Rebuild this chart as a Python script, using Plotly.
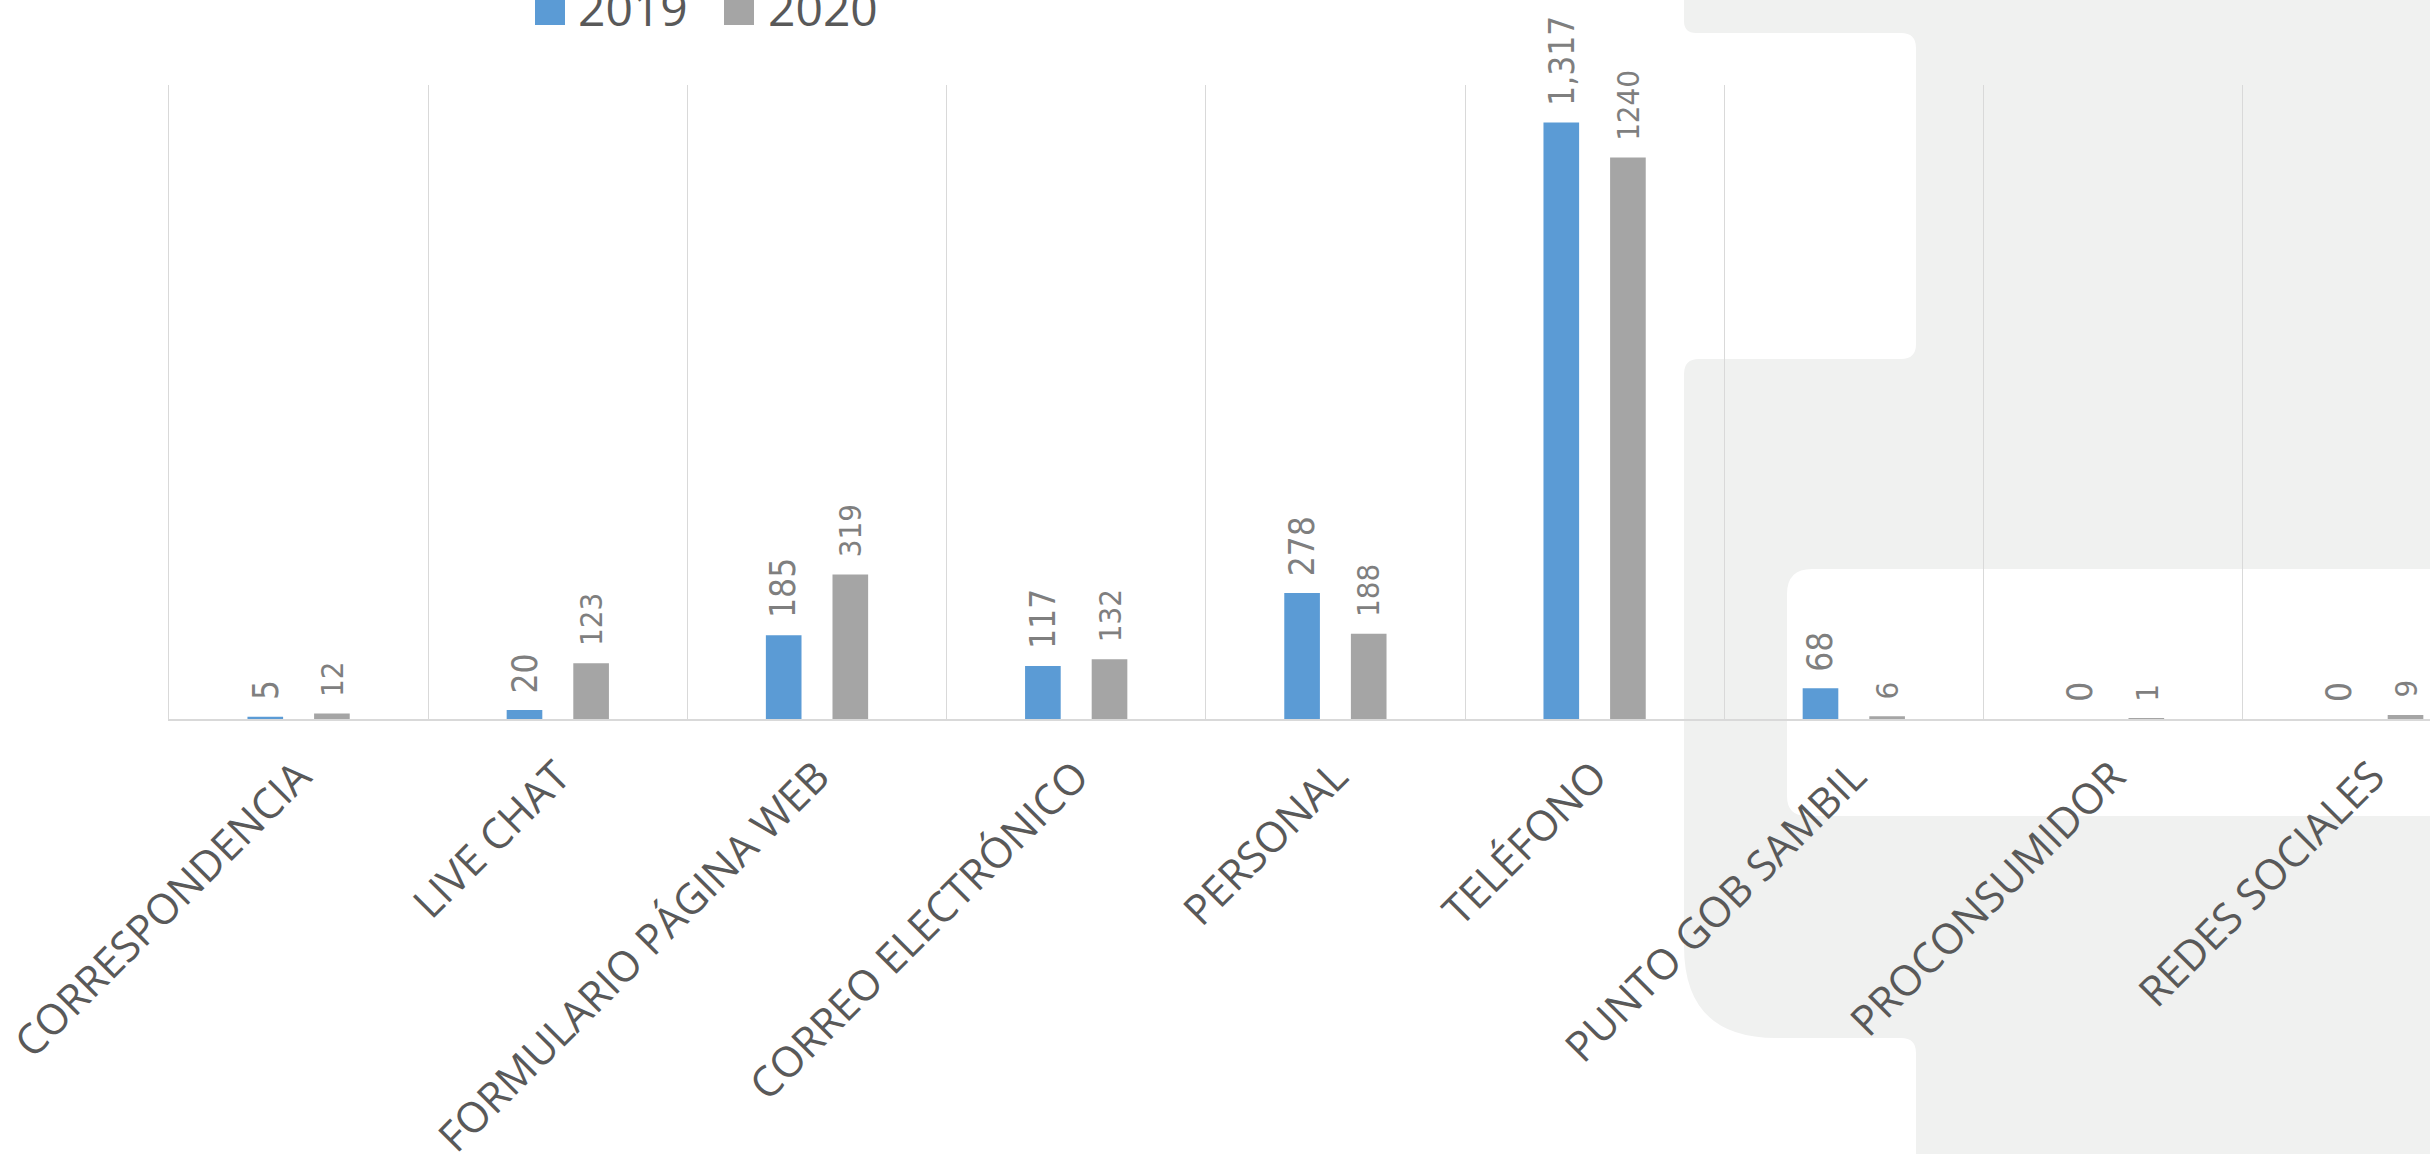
import plotly.graph_objects as go

# Canales de atención: casos recibidos por año
categorias = [
    "CORRESPONDENCIA",
    "LIVE CHAT",
    "FORMULARIO PÁGINA WEB",
    "CORREO ELECTRÓNICO",
    "PERSONAL",
    "TELÉFONO",
    "PUNTO GOB SAMBIL",
    "PROCONSUMIDOR",
    "REDES SOCIALES",
]
series = ["2019", "2020"]
valores_2019 = [5, 20, 185, 117, 278, 1317, 68, 0, 0]
valores_2020 = [12, 123, 319, 132, 188, 1240, 6, 1, 9]

# ---- layout constants -------------------------------------------------
W, H = 2430, 1154
ML, MR, MT, MB = 169, 0, 85, 435
PW, PH = W - ML - MR, H - MT - MB
CAT_W = 259.2                      # pixel width of one category
X_END = -0.5 + PW / CAT_W          # last category is cut by the page edge
Y_MAX = 1400

BARGAP = 0.486
BARGROUPGAP = 0.465
OFFSET = (1 - BARGAP) / 4          # centre offset of each bar in a group

AZUL = "#5b9bd5"
GRIS = "#a5a5a5"
TEXTO = "#595959"
ETIQUETA = "#7f7f7f"
REJILLA = "#d9d9d9"
FONDO_FORMA = "#f0f1f0"
FUENTE_VALOR = "DejaVu Sans Condensed, DejaVu Sans, sans-serif"


def px(x):
    return (x - ML) / PW


def py(y):
    return (MT + PH - y) / PH


fig = go.Figure()
fig.add_trace(go.Bar(name=series[0], x=categorias, y=valores_2019,
                     marker=dict(color=AZUL, line=dict(width=0)),
                     showlegend=False))
fig.add_trace(go.Bar(name=series[1], x=categorias, y=valores_2020,
                     marker=dict(color=GRIS, line=dict(width=0)),
                     showlegend=False))

# value labels, rotated, above each bar
anots = []
for i, v in enumerate(valores_2019):
    anots.append(dict(x=i - OFFSET, y=v, xref="x", yref="y",
                      text=f"{v:,}", textangle=-90, showarrow=False,
                      xanchor="center", yanchor="bottom", yshift=15,
                      font=dict(family=FUENTE_VALOR, size=35, color=ETIQUETA)))
for i, v in enumerate(valores_2020):
    anots.append(dict(x=i + OFFSET, y=v, xref="x", yref="y",
                      text=f"{v}", textangle=-90, showarrow=False,
                      xanchor="center", yanchor="bottom", yshift=15,
                      font=dict(family=FUENTE_VALOR, size=31, color=ETIQUETA)))

# legend drawn at the top
shapes = []
leyenda = [(series[0], AZUL, 535, 576), (series[1], GRIS, 724, 766)]
for nombre, color, xs, xt in leyenda:
    shapes.append(dict(type="rect", xref="paper", yref="paper",
                       x0=px(xs), x1=px(xs + 30), y0=py(25), y1=py(-5),
                       fillcolor=color, line=dict(width=0), layer="above"))
    anots.append(dict(x=px(xt), y=py(42), xref="paper", yref="paper",
                      text=nombre, showarrow=False, xanchor="left", yanchor="bottom",
                      font=dict(family="Open Sans", size=48, color=TEXTO)))

# decorative background shape on the right side
def corner(cx, cy, ex, ey):
    return f"Q{px(cx):.5f},{py(cy):.5f} {px(ex):.5f},{py(ey):.5f} "


def pt(cmd, x, y):
    return f"{cmd}{px(x):.5f},{py(y):.5f} "


r_sm, r_n2a, r_n2b, R_big = 15, 25, 20, 92
path = pt("M", 1684, -10)
path += pt("L", 2445, -10)
path += pt("L", 2445, 569)
path += pt("L", 1787 + r_n2a, 569)
path += corner(1787, 569, 1787, 569 + r_n2a)
path += pt("L", 1787, 816 - r_n2b)
path += corner(1787, 816, 1787 + r_n2b, 816)
path += pt("L", 2445, 816)
path += pt("L", 2445, 1170)
path += pt("L", 1916, 1170)
path += pt("L", 1916, 1038 + r_sm)
path += corner(1916, 1038, 1916 - r_sm, 1038)
path += pt("L", 1684 + R_big, 1038)
path += corner(1684, 1038, 1684, 1038 - R_big)
path += pt("L", 1684, 359 + r_sm)
path += corner(1684, 359, 1684 + r_sm, 359)
path += pt("L", 1916 - r_sm, 359)
path += corner(1916, 359, 1916, 359 - r_sm)
path += pt("L", 1916, 33 + r_sm)
path += corner(1916, 33, 1916 - r_sm, 33)
path += pt("L", 1684 + 12, 33)
path += corner(1684, 33, 1684, 33 - 12)
path += "Z"
shapes.insert(0, dict(type="path", path=path, xref="paper", yref="paper",
                      fillcolor=FONDO_FORMA, line=dict(width=0), layer="below"))

fig.update_layout(
    width=W, height=H,
    margin=dict(l=ML, r=MR, t=MT, b=MB, pad=0, autoexpand=False),
    paper_bgcolor="white",
    plot_bgcolor="rgba(0,0,0,0)",
    barmode="group",
    bargap=BARGAP,
    bargroupgap=BARGROUPGAP,
    showlegend=False,
    annotations=anots,
    shapes=shapes,
    font=dict(family="Open Sans", color=TEXTO),
)
fig.update_xaxes(
    type="category",
    range=[-0.5, X_END],
    tickson="boundaries",
    showgrid=True, gridcolor=REJILLA, gridwidth=1.3,
    showline=True, linecolor=REJILLA, linewidth=2,
    ticks="", tickangle=-45, ticklabelstandoff=14,
    tickfont=dict(family="Open Sans", size=42, color=TEXTO),
    automargin=False,
    fixedrange=True,
)
fig.update_yaxes(
    range=[0, Y_MAX],
    showgrid=False, zeroline=False, showticklabels=False,
    showline=True, linecolor=REJILLA, linewidth=1.3,
    automargin=False,
    fixedrange=True,
)

fig.write_html("out.html", config={"displayModeBar": False})
